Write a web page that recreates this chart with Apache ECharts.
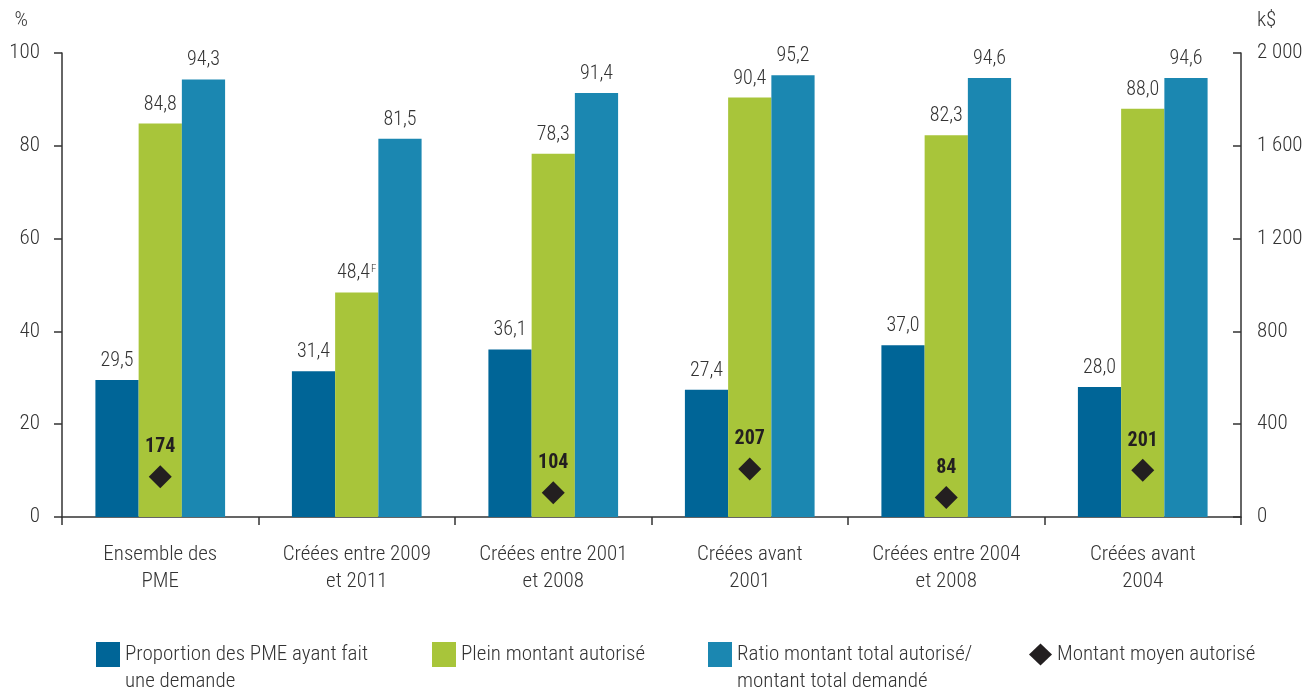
<!DOCTYPE html>
<html>
<head>
<meta charset="utf-8">
<script src="https://cdn.jsdelivr.net/npm/echarts@6/dist/echarts.min.js"></script>
<style>
html,body{margin:0;padding:0;background:#fff;}
#chart{width:1315px;height:694px;}
</style>
</head>
<body>
<div id="chart"></div>
<script>
const categories = ['Ensemble des\nPME', 'Créées entre 2009\net 2011', 'Créées entre 2001\net 2008', 'Créées avant\n2001', 'Créées entre 2004\net 2008', 'Créées avant\n2004'];
const proportion = [29.5, 31.4, 36.1, 27.4, 37.0, 28.0];
const pleinMontant = [84.8, 48.4, 78.3, 90.4, 82.3, 88.0];
const ratioMontant = [94.3, 81.5, 91.4, 95.2, 94.6, 94.6];
const montantMoyen = [174, null, 104, 207, 84, 201];
const flaggedPlein = [false, true, false, false, false, false];
const leftTicks = [0, 20, 40, 60, 80, 100];
const rightTicks = [0, 400, 800, 1200, 1600, 2000];

const FONT = "'Roboto Condensed','DejaVu Sans Condensed',sans-serif";
const FW = 300;
const TXT = '#333333';
const C1 = '#006597', C2 = '#a8c53a', C3 = '#1b87b1', C4 = '#231f20';

function fmt(v){ return v.toFixed(1).replace('.', ','); }
function fmtK(v){ return String(v).replace(/\B(?=(\d{3})+(?!\d))/g, ' '); }

const barLabel = {
  show: true, position: 'top', distance: 9, color: TXT, fontFamily: FONT, fontWeight: FW, fontSize: 20,
  formatter: p => fmt(p.value)
};

const chart = echarts.init(document.getElementById('chart'));
const legendBase = {
  selectedMode: false, orient: 'horizontal', padding: 0, itemWidth: 24, itemHeight: 25, itemGap: 10,
  textStyle: { color: TXT, fontFamily: FONT, fontWeight: FW, fontSize: 21, lineHeight: 27 }
};
const twoLine = name => '\n' + name;
chart.setOption({
  animation: false,
  textStyle: { fontFamily: FONT },
  grid: { left: 62, right: 74, top: 53, bottom: 177, containLabel: false },
  legend: [
    Object.assign({}, legendBase, { left: 96, top: 614, formatter: twoLine,
      data: [{ name: 'Proportion des PME ayant fait\nune demande', icon: 'rect' }] }),
    Object.assign({}, legendBase, { left: 432, top: 641, data: [{ name: 'Plein montant autorisé', icon: 'rect' }] }),
    Object.assign({}, legendBase, { left: 708, top: 614, formatter: twoLine,
      data: [{ name: 'Ratio montant total autorisé/\nmontant total demandé', icon: 'rect' }] }),
    Object.assign({}, legendBase, { left: 1029, top: 641, itemWidth: 23, itemHeight: 22, data: [{ name: 'Montant moyen autorisé', icon: 'diamond' }] })
  ],
  xAxis: {
    type: 'category', data: categories,
    axisLine: { lineStyle: { color: '#333', width: 1.5 } },
    axisTick: { show: true, length: 8, alignWithLabel: false, lineStyle: { color: '#333', width: 1.5 } },
    axisLabel: { color: TXT, fontFamily: FONT, fontWeight: FW, fontSize: 21, lineHeight: 27, margin: 24, interval: 0 }
  },
  yAxis: [
    {
      type: 'value', min: 0, max: 100, interval: 20, position: 'left',
      name: '%', nameLocation: 'end', nameGap: 22,
      nameTextStyle: { color: TXT, fontFamily: FONT, fontWeight: FW, fontSize: 21, align: 'right', padding: [0, 34, 0, 0] },
      axisLine: { show: true, lineStyle: { color: '#333', width: 1.5 } },
      axisTick: { show: true, inside: false, length: 8, lineStyle: { color: '#333', width: 1.5 } },
      splitLine: { show: false },
      axisLabel: { color: TXT, fontFamily: FONT, fontWeight: FW, fontSize: 21, margin: 22,
        formatter: v => leftTicks.indexOf(v) >= 0 ? String(v) : '' }
    },
    {
      type: 'value', min: 0, max: 2000, interval: 400, position: 'right',
      name: 'k$', nameLocation: 'end', nameGap: 22,
      nameTextStyle: { color: TXT, fontFamily: FONT, fontWeight: FW, fontSize: 21, align: 'left', padding: [0, 0, 0, 16] },
      axisLine: { show: true, lineStyle: { color: '#333', width: 1.5 } },
      axisTick: { show: true, inside: true, length: 8, lineStyle: { color: '#333', width: 1.5 } },
      splitLine: { show: false },
      axisLabel: { color: TXT, fontFamily: FONT, fontWeight: FW, fontSize: 21, margin: 16,
        formatter: v => rightTicks.indexOf(v) >= 0 ? fmtK(v) : '' }
    }
  ],
  series: [
    { name: 'Proportion des PME ayant fait\nune demande', type: 'bar', data: proportion, barGap: '0%', barCategoryGap: '34%',
      itemStyle: { color: C1 }, label: barLabel },
    { name: 'Plein montant autorisé', type: 'bar', data: pleinMontant, barGap: '0%', barCategoryGap: '34%',
      itemStyle: { color: C2 },
      label: Object.assign({}, barLabel, {
        formatter: p => flaggedPlein[p.dataIndex] ? '{v|' + fmt(p.value) + '}{sup|F}' : '{v|' + fmt(p.value) + '}',
        rich: { v: { color: TXT, fontFamily: FONT, fontWeight: FW, fontSize: 20 },
                sup: { color: TXT, fontFamily: FONT, fontWeight: FW, fontSize: 11, padding: [0, 0, 9, 1] } }
      }) },
    { name: 'Ratio montant total autorisé/\nmontant total demandé', type: 'bar', data: ratioMontant, barGap: '0%', barCategoryGap: '34%',
      itemStyle: { color: C3 }, label: barLabel },
    { name: 'Montant moyen autorisé', type: 'scatter', yAxisIndex: 1, data: montantMoyen,
      symbol: 'diamond', symbolSize: [23, 23], itemStyle: { color: C4, opacity: 1 }, z: 5,
      label: { show: true, position: 'top', distance: 8, color: C4, fontFamily: FONT, fontSize: 20, fontWeight: 'bold',
        formatter: p => String(p.value) } }
  ]
});
</script>
</body>
</html>
